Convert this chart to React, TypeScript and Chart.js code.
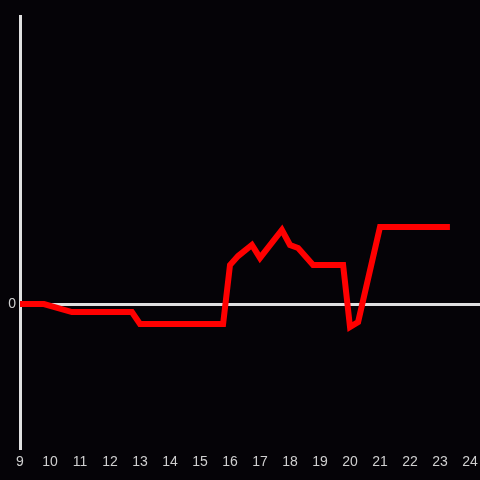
import React, { useEffect, useRef } from "react";
import { Chart, registerables } from "chart.js";

Chart.register(...registerables);

const hours: number[] = [9.0, 9.8, 10.73, 12.73, 13.0, 15.77, 16.0, 16.27, 16.73, 17.0, 17.73, 18.0, 18.27, 18.77, 19.77, 20.0, 20.27, 21.0, 23.33];
const values: number[] = [0, 0, -0.056, -0.056, -0.139, -0.139, 0.271, 0.333, 0.41, 0.32, 0.514, 0.41, 0.389, 0.271, 0.271, -0.16, -0.125, 0.535, 0.535];
const xTickValues: number[] = [9, 10, 11, 12, 13, 14, 15, 16, 17, 18, 19, 20, 21, 22, 23, 24];
const yTickValues: number[] = [0];

export default function App() {
  const ref = useRef<HTMLCanvasElement | null>(null);
  useEffect(() => {
    if (!ref.current) return;
    const chart = new Chart(ref.current, {
      type: "line",
      data: {
        datasets: [
          {
            data: hours.map((h, i) => ({ x: h, y: values[i] })),
            borderColor: "#ff0000",
            borderWidth: 6,
            pointRadius: 0,
            tension: 0,
            fill: false,
          },
        ],
      },
      options: {
        animation: false,
        responsive: false,
        maintainAspectRatio: false,
        layout: { padding: { top: 16, right: 0, left: 0, bottom: 0 } },
        plugins: { legend: { display: false }, tooltip: { enabled: false } },
        scales: {
          x: {
            type: "linear",
            min: 9,
            max: 24.333,
            afterBuildTicks: (s: any) => {
              s.ticks = xTickValues.map((v) => ({ value: v }));
            },
            afterFit: (s: any) => {
              s.height = 32;
              s.paddingRight = 0;
              s.paddingLeft = 0;
            },
            grid: { display: false, drawTicks: false },
            border: { display: false },
            ticks: {
              color: "#cfcfcf",
              padding: 6,
              maxRotation: 0,
              autoSkip: false,
              font: { family: "Liberation Sans", size: 14 },
            },
          },
          y: {
            type: "linear",
            min: -1,
            max: 2,
            afterBuildTicks: (s: any) => {
              s.ticks = yTickValues.map((v) => ({ value: v }));
            },
            afterFit: (s: any) => {
              s.width = 20;
              s.paddingTop = 0;
              s.paddingBottom = 0;
            },
            grid: { color: "#e0e0e0", lineWidth: 3, drawTicks: false },
            border: { display: true, color: "#e0e0e0", width: 3 },
            ticks: {
              color: "#cfcfcf",
              padding: 4,
              font: { family: "Liberation Sans", size: 14 },
            },
          },
        },
      },
    });
    return () => chart.destroy();
  }, []);
  return (
    <div style={{ position: "fixed", left: 0, top: 0, width: 480, height: 480, background: "#050307" }}>
      <canvas ref={ref} width={480} height={480} style={{ display: "block" }} />
    </div>
  );
}
